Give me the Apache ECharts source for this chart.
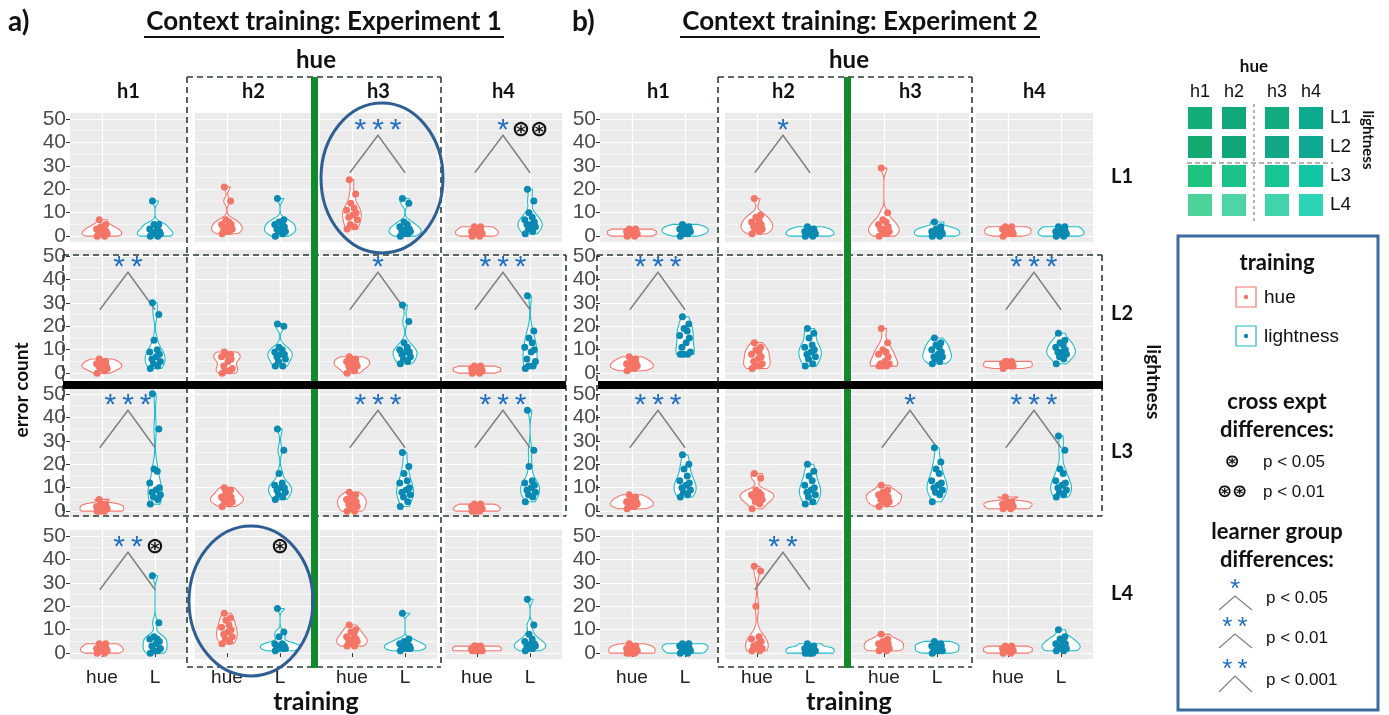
<!DOCTYPE html>
<html>
<head>
<meta charset="utf-8">
<script src="https://cdn.jsdelivr.net/npm/echarts@6/dist/echarts.min.js"></script>
<style>
  html, body { margin: 0; padding: 0; background: #fff; }
  #chart { width: 1389px; height: 715px; }
</style>
</head>
<body>
<div id="chart"></div>
<script>
// facet labels
const hueCols = ["h1", "h2", "h3", "h4"];
const lightRows = ["L1", "L2", "L3", "L4"];
const yTicks = [0, 10, 20, 30, 40, 50];

// error counts per learner, Experiment 1 (each row array: h1..h4)
const e1L1hue = [[0,0,1,1,1,2,2,3,3,4,5,7],[1,2,2,3,3,4,5,5,6,7,15,21],[3,4,5,7,8,9,10,11,12,14,18,24],[0,0,1,1,1,2,2,2,3,3,4,4]];
const e1L1L   = [[0,0,1,1,1,2,2,3,4,5,5,15],[0,1,2,2,3,3,4,5,5,6,7,16],[0,1,1,2,2,3,3,4,5,6,14,16],[1,2,3,4,5,5,6,7,8,10,15,20]];
const e1L2hue = [[0,1,2,2,3,3,3,4,4,5,5,6],[0,1,1,2,3,5,6,7,7,8,8,9],[0,1,2,3,3,4,4,5,5,6,6,7],[0,0,1,1,1,1,2,2,2,2,3,3]];
const e1L2L   = [[2,3,4,5,6,7,8,9,10,14,25,30],[3,3,5,6,7,8,8,9,10,11,20,21],[4,5,6,7,8,9,9,10,11,13,22,29],[2,3,3,5,6,9,10,11,13,15,18,33]];
const e1L3hue = [[0,0,0,1,1,1,2,2,2,3,3,5],[2,3,4,4,5,5,6,6,7,8,9,10],[0,0,1,2,3,3,4,5,5,6,7,8],[0,0,0,1,1,1,1,2,2,2,3,3]];
const e1L3L   = [[3,5,6,7,8,9,10,12,17,18,35,50],[5,6,7,8,9,10,10,11,12,16,26,35],[2,4,6,7,8,9,10,12,13,16,19,25],[4,6,7,8,9,10,11,12,13,19,26,43]];
const e1L4hue = [[0,0,1,1,1,2,2,2,3,3,4,4],[4,5,6,7,8,9,10,11,12,14,15,17],[3,3,4,5,5,6,6,7,8,9,10,12],[1,1,1,1,2,2,2,2,2,3,3,3]];
const e1L4L   = [[0,1,1,2,3,4,5,6,6,7,13,33],[1,2,2,2,3,3,3,4,4,7,9,19],[1,2,2,2,3,3,3,4,4,5,6,17],[1,2,2,3,3,4,4,5,6,8,12,23]];

// Experiment 2
const e2L1hue = [[0,0,1,1,1,1,2,2,2,2,3,3],[1,2,3,3,4,5,5,6,7,8,9,16],[0,1,1,2,3,3,4,5,6,7,10,29],[0,1,1,1,2,2,2,3,3,3,4,4]];
const e2L1L   = [[0,1,1,2,2,2,3,3,3,4,4,5],[0,0,1,1,1,1,2,2,2,3,3,4],[0,0,1,1,1,2,2,2,3,3,4,6],[0,0,1,1,1,2,2,2,3,3,4,4]];
const e2L2hue = [[1,2,2,3,3,3,4,4,5,5,6,7],[2,3,3,4,5,6,7,8,9,10,11,13],[3,3,3,4,4,5,7,8,9,10,13,19],[2,3,3,3,3,4,4,4,4,5,5,5]];
const e2L2L   = [[8,8,8,9,11,13,15,16,18,19,21,24],[3,4,6,7,8,9,10,11,12,15,17,19],[4,5,6,7,7,8,9,10,11,12,13,15],[4,6,7,8,9,9,10,11,12,13,14,17]];
const e2L3hue = [[1,2,2,3,3,3,4,4,5,5,6,7],[1,3,4,5,6,6,7,7,8,9,14,16],[2,3,4,4,5,6,6,7,7,8,9,11],[1,1,2,2,2,3,3,3,3,4,4,6]];
const e2L3L   = [[6,7,8,9,10,11,12,13,15,18,20,24],[3,4,6,7,8,9,10,11,13,15,17,20],[4,7,8,9,10,11,12,13,16,18,21,27],[6,7,8,9,10,11,12,13,16,18,26,32]];
const e2L4hue = [[0,0,0,1,1,1,2,2,2,3,3,4],[1,1,2,2,3,4,5,6,7,20,35,37],[1,1,2,2,3,3,4,4,5,5,6,8],[0,0,1,1,1,1,2,2,2,2,3,3]];
const e2L4L   = [[0,0,1,1,2,2,2,3,3,3,4,4],[0,0,0,1,1,1,1,2,2,2,3,4],[0,1,1,1,2,2,3,3,3,4,4,5],[1,1,2,2,3,3,4,4,5,6,7,10]];

// learner group significance (number of stars) and cross-experiment marks, rows L1..L4
const sigE1   = [[0,0,3,1],[2,0,1,3],[3,0,3,3],[2,0,0,0]];
const crossE1 = [[0,0,0,2],[0,0,0,0],[0,0,0,0],[1,1,0,0]];
const sigE2   = [[0,1,0,0],[3,0,0,3],[3,0,1,3],[0,2,0,0]];
const crossE2 = [[0,0,0,0],[0,0,0,0],[0,0,0,0],[0,0,0,0]];

// swatch colours for the stimulus key (rows L1..L4, cols h1..h4)
const swatchColors = [
  ["#13ad78", "#11a97c", "#12ab80", "#0eaa8f"],
  ["#14a970", "#10a67a", "#12a886", "#0fa992"],
  ["#1cc47c", "#1bc28a", "#18c493", "#12c6a3"],
  ["#4dd39a", "#4fd4a6", "#40d3ac", "#2dd3b6"]
];

const HUE_LINE = "#f8766d", HUE_PT = "#f47466";
const L_LINE = "#1dbccb", L_PT = "#0a8ab2";
const STAR = "#1f6fbf";
const W = 117, H = 129;
const rowTop = [113, 250, 388, 530];
const jit = [-0.09, 0.05, -0.03, 0.1, -0.06, 0.02, 0.08, -0.1, 0.04, -0.02, 0.07, -0.05];

const exps = [
  { left: [70, 195, 320, 445], hue: [e1L1hue, e1L2hue, e1L3hue, e1L4hue], L: [e1L1L, e1L2L, e1L3L, e1L4L], sig: sigE1, cross: crossE1 },
  { left: [600, 725, 852, 976], hue: [e2L1hue, e2L2hue, e2L3hue, e2L4hue], L: [e2L1L, e2L2L, e2L3L, e2L4L], sig: sigE2, cross: crossE2 }
];

// ggplot-like violin: gaussian kde, nrd0 bandwidth, trimmed to data range
function quantile(s, p) {
  const h = (s.length - 1) * p, lo = Math.floor(h);
  return s[lo] + (h - lo) * (s[Math.min(lo + 1, s.length - 1)] - s[lo]);
}
function bandwidth(x) {
  const n = x.length;
  const m = x.reduce((a, b) => a + b, 0) / n;
  const sd = Math.sqrt(x.reduce((a, b) => a + (b - m) * (b - m), 0) / (n - 1));
  const s = [...x].sort((a, b) => a - b);
  const iqr = quantile(s, 0.75) - quantile(s, 0.25);
  let lo = Math.min(sd, iqr / 1.34);
  if (!(lo > 0)) lo = sd > 0 ? sd : (Math.abs(s[0]) || 1);
  return 0.9 * lo * Math.pow(n, -0.2);
}
function kde(x) {
  const h = bandwidth(x);
  const lo = Math.min(...x), hi = Math.max(...x);
  const out = [];
  for (let k = 0; k <= 80; k++) {
    const y = lo + (hi - lo) * k / 80;
    let d = 0;
    x.forEach((v) => { const u = (y - v) / h; d += Math.exp(-0.5 * u * u); });
    out.push([y, d / (x.length * h * Math.sqrt(2 * Math.PI))]);
  }
  return out;
}
// half width in x units; soft saturation so flat violins reach ~0.9 like the original
function halfWidth(d, maxD) {
  const a = 2.3;
  return 0.46 * Math.tanh(a * d / maxD) / Math.tanh(a);
}

const grids = [], xAxes = [], yAxes = [], series = [];

exps.forEach((ex, e) => {
  let maxD = 0;
  const dens = {};
  ["hue", "L"].forEach((g) => {
    dens[g] = ex[g].map((row) => row.map((vals) => {
      const k = kde(vals);
      k.forEach((p) => { if (p[1] > maxD) maxD = p[1]; });
      return k;
    }));
  });

  for (let r = 0; r < 4; r++) {
    for (let c = 0; c < 4; c++) {
      const gi = grids.length;
      const bottom = r === 3, first = c === 0;
      grids.push({
        left: ex.left[c], top: rowTop[r], width: W, height: H,
        show: true, backgroundColor: "#EBEBEB", borderWidth: 0,
        containLabel: false, outerBoundsMode: "none"
      });
      xAxes.push({
        gridIndex: gi, type: "value", min: 0.4, max: 2.6,
        axisLine: { show: false },
        axisTick: { show: bottom, customValues: [1, 2], length: 4, lineStyle: { color: "#333" } },
        axisLabel: {
          show: bottom, customValues: [1, 2], margin: 9,
          formatter: (v) => (v === 1 ? "hue" : "L"),
          fontSize: 19, color: "#222", fontFamily: "Liberation Sans"
        },
        splitLine: { show: true, lineStyle: { color: "#fff", width: 1.2 } }
      });
      yAxes.push({
        gridIndex: gi, type: "value", min: -2.5, max: 52.5,
        axisLine: { show: false },
        axisTick: { show: first, customValues: yTicks, length: 4, lineStyle: { color: "#333" } },
        axisLabel: {
          show: first, customValues: yTicks, margin: 4,
          fontSize: 21, color: "#4d4d4d", fontFamily: "Liberation Sans"
        },
        splitLine: { show: true, lineStyle: { color: "#fff", width: 1.2 } }
      });

      const kh = dens.hue[r][c], kl = dens.L[r][c];
      const stars = ex.sig[r][c], cross = ex.cross[r][c];
      series.push({
        type: "custom", xAxisIndex: gi, yAxisIndex: gi, silent: true, z: 2,
        data: [[1.5, 25]],
        renderItem: (params, api) => {
          const ch = [];
          [5, 15, 25, 35, 45].forEach((m) => {
            const a = api.coord([0.4, m]), b = api.coord([2.6, m]);
            ch.push({ type: "line", shape: { x1: a[0], y1: a[1], x2: b[0], y2: b[1] }, style: { stroke: "#fff", lineWidth: 0.6 } });
          });
          [[1, kh, HUE_LINE], [2, kl, L_LINE]].forEach(([cx, k, col]) => {
            const lft = [], rgt = [];
            k.forEach(([y, d]) => {
              const hw = halfWidth(d, maxD);
              lft.push(api.coord([cx - hw, y]));
              rgt.push(api.coord([cx + hw, y]));
            });
            ch.push({ type: "polygon", shape: { points: lft.concat(rgt.reverse()) }, style: { fill: "#fff", stroke: col, lineWidth: 1.1 } });
          });
          if (stars) {
            const p1 = api.coord([0.96, 27]), p2 = api.coord([1.49, 43]), p3 = api.coord([2.0, 27]);
            ch.push({ type: "polyline", shape: { points: [p1, p2, p3] }, style: { stroke: "#808080", lineWidth: 1.5, fill: null } });
            const sp = api.coord([1.49, 47]);
            ch.push({ type: "text", x: sp[0], y: sp[1] + 5, style: { text: Array(stars).fill("*").join("\u2009"), font: "30px Liberation Sans", fill: STAR, align: "center", verticalAlign: "middle" } });
          }
          if (cross) {
            const cp = api.coord([2.0, 45]);
            ch.push({ type: "text", x: cp[0], y: cp[1], style: { text: cross === 2 ? "⊛⊛" : "⊛", font: "bold 22px DejaVu Sans", fill: "#111", align: "center", verticalAlign: "middle" } });
          }
          return { type: "group", children: ch };
        }
      });
      [["hue", 1, ex.hue[r][c], HUE_PT], ["lightness", 2, ex.L[r][c], L_PT]].forEach(([name, cx, vals, col]) => {
        series.push({
          type: "scatter", name, xAxisIndex: gi, yAxisIndex: gi, z: 3, silent: true,
          symbolSize: 7, itemStyle: { color: col, opacity: 1 },
          data: vals.map((v, i) => [cx + jit[i % jit.length], v])
        });
      });
    }
  }
});

// decorations, labels, key
const G = [];
function txt(text, x, y, font, o = {}) {
  const el = {
    type: "text", x, y, z: 100,
    style: { text, font, fill: o.fill || "#111", align: o.align || "center", verticalAlign: "middle",
             textAlign: o.align || "center", textVerticalAlign: "middle" }
  };
  if (o.rot != null) el.rotation = o.rot;
  G.push(el);
}
function line(x1, y1, x2, y2, stroke, lw, dash) {
  G.push({ type: "line", z: 90, shape: { x1, y1, x2, y2 }, style: { stroke, lineWidth: lw, lineDash: dash || null } });
}
function rect(x, y, w, h, fill, stroke, lw) {
  G.push({ type: "rect", z: 90, shape: { x, y, width: w, height: h }, style: { fill: fill || "none", stroke: stroke || null, lineWidth: lw || 0 } });
}
const DASH = [6, 4], DC = "#2b3d33";

// titles
txt("a)", 8, 22, "bold 28px Lato", { align: "left" });
txt("Context training: Experiment 1", 324, 22, "bold 26px Lato");
line(144, 37, 504, 37, "#111", 2);
txt("b)", 572, 22, "bold 28px Lato", { align: "left" });
txt("Context training: Experiment 2", 860, 22, "bold 26px Lato");
line(680, 37, 1040, 37, "#111", 2);

exps.forEach((ex, e) => {
  const hx = e === 0 ? 316 : 849;
  txt("hue", hx, 60, "bold 24px Lato");
  hueCols.forEach((h, c) => txt(h, ex.left[c] + W / 2, 92, "bold 20px Lato"));
  txt("training", hx, 702, "bold 25px Lato");
});
lightRows.forEach((l, r) => txt(l, 1122, rowTop[r] + 64, "bold 20px Lato"));
txt("error count", 22, 390, "bold 19px Lato", { rot: Math.PI / 2 });
txt("lightness", 1153, 382, "bold 19px Lato", { rot: -Math.PI / 2 });

// dashed boxes
[[187, 441, 63, 566], [718, 972, 597, 1102]].forEach(([a, b, l, r]) => {
  line(a, 77, b, 77, DC, 1.6, DASH);
  line(a, 77, a, 667, DC, 1.6, DASH);
  line(b, 77, b, 667, DC, 1.6, DASH);
  line(a, 667, b, 667, DC, 1.6, DASH);
  line(l, 255, r, 255, DC, 1.6, DASH);
  line(l, 516, r, 516, DC, 1.6, DASH);
  line(l, 255, l, 516, DC, 1.6, DASH);
  line(r, 255, r, 516, DC, 1.6, DASH);
});
// green and black dividers
rect(311, 77, 7, 591, "#128a2c");
rect(844, 77, 7, 591, "#128a2c");
rect(63, 381, 503, 8, "#000");
rect(598, 381, 505, 8, "#000");
// highlight ellipses
G.push({ type: "ellipse", z: 95, shape: { cx: 382, cy: 178, rx: 61, ry: 75 }, style: { fill: "none", stroke: "#2f5f92", lineWidth: 3 } });
G.push({ type: "ellipse", z: 95, shape: { cx: 251, cy: 601, rx: 62, ry: 75 }, style: { fill: "none", stroke: "#2f5f92", lineWidth: 3 } });

// stimulus key
const swX = [1188, 1222, 1265, 1299], swY = [107, 136, 165, 194];
txt("hue", 1254, 67, "bold 17px Lato");
["h1", "h2", "h3", "h4"].forEach((h, c) => txt(h, swX[c] + 12, 92, "18px Liberation Sans"));
swatchColors.forEach((row, r) => row.forEach((col, c) => rect(swX[c], swY[r], 24, 22, col)));
lightRows.forEach((l, r) => txt(l, 1330, swY[r] + 11, "19px Liberation Sans", { align: "left" }));
txt("lightness", 1368, 140, "bold 15px Lato", { rot: -Math.PI / 2 });
line(1254, 104, 1254, 224, "#666", 1, [3, 3]);
line(1187, 163, 1333, 163, "#666", 1, [5, 3]);

// legend box
rect(1178, 236, 200, 474, null, "#3a6a9e", 3);
txt("training", 1277, 263, "bold 22px Lato");
rect(1236, 287, 20, 20, "#fff", HUE_LINE, 1.2);
G.push({ type: "circle", z: 96, shape: { cx: 1246, cy: 297, r: 2.2 }, style: { fill: HUE_PT } });
txt("hue", 1264, 298, "19px Liberation Sans", { align: "left" });
rect(1236, 326, 20, 20, "#fff", L_LINE, 1.2);
G.push({ type: "circle", z: 96, shape: { cx: 1246, cy: 336, r: 2.2 }, style: { fill: L_PT } });
txt("lightness", 1264, 337, "19px Liberation Sans", { align: "left" });
txt("cross expt", 1277, 402, "bold 22px Lato");
txt("differences:", 1277, 430, "bold 22px Lato");
txt("⊛", 1232, 462, "bold 18px DejaVu Sans");
txt("p < 0.05", 1263, 462, "17px Liberation Sans", { align: "left" });
txt("⊛⊛", 1232, 492, "bold 18px DejaVu Sans");
txt("p < 0.01", 1263, 492, "17px Liberation Sans", { align: "left" });
txt("learner group", 1277, 532, "bold 22px Lato");
txt("differences:", 1277, 560, "bold 22px Lato");
[["*", 590, 596, 610, "p < 0.05", 598], ["*\u2009*", 628, 634, 648, "p < 0.01", 638], ["*\u2009*", 670, 676, 692, "p < 0.001", 680]].forEach(([s, sy, py, ey, label, ly]) => {
  txt(s, 1235, sy, "26px Liberation Sans", { fill: STAR });
  G.push({ type: "polyline", z: 96, shape: { points: [[1219, ey], [1235, py], [1252, ey]] }, style: { stroke: "#808080", lineWidth: 1.2, fill: null } });
  txt(label, 1266, ly, "17px Liberation Sans", { align: "left" });
});

const chart = echarts.init(document.getElementById("chart"), null, { renderer: "canvas" });
chart.setOption({
  animation: false,
  backgroundColor: "#fff",
  grid: grids,
  xAxis: xAxes,
  yAxis: yAxes,
  series: series,
  graphic: { elements: G }
});
</script>
</body>
</html>
